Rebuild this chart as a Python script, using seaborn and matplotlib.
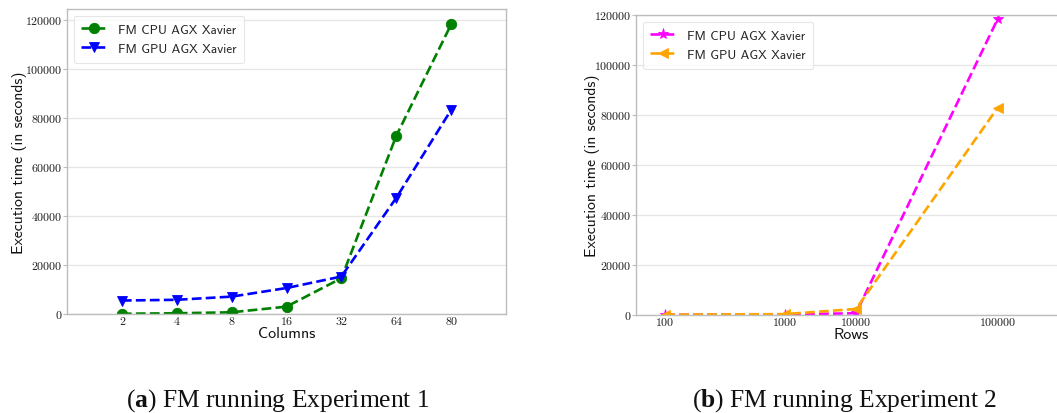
import numpy as np
import pandas as pd
import matplotlib
matplotlib.use("Agg")
import matplotlib.pyplot as plt
import seaborn as sns

# Experiment 1: execution time versus number of columns
columns = ["2", "4", "8", "16", "32", "64", "80"]
cpu_cols = [100, 300, 700, 3000, 14600, 72700, 118200]
gpu_cols = [5500, 5800, 7100, 10600, 15300, 47400, 83300]

# Experiment 2: execution time versus number of rows
rows = [100, 1000, 10000, 100000]
cpu_rows = [100, 200, 700, 118400]
gpu_rows = [150, 350, 2400, 82900]

series_labels = ["FM CPU AGX Xavier", "FM GPU AGX Xavier"]

sns.set_theme(style="whitegrid")
plt.rcParams["mathtext.fontset"] = "custom"
plt.rcParams["mathtext.rm"] = "Liberation Serif"
plt.rcParams["mathtext.bf"] = "Liberation Serif:bold"

TICK_FONT = "cmr10"
LABEL_FONT = "cmss10"
GRID_COLOR = "#e6e6e6"
SPINE_COLOR = "#bdbdbd"

fig = plt.figure(figsize=(10.57, 4.14), dpi=100)
ax1 = fig.add_axes([67 / 1057, 1 - 315 / 414, (506 - 67) / 1057, (315 - 10) / 414])
ax2 = fig.add_axes([636 / 1057, 1 - 316 / 414, (1066 - 636) / 1057, (316 - 16) / 414])

line_kw = dict(linestyle="--", linewidth=1.9, markeredgewidth=0.6)

# ---- (a) columns, categorical positions ----
df1 = pd.DataFrame({"pos": np.arange(len(columns)), "cpu": cpu_cols, "gpu": gpu_cols})
sns.lineplot(data=df1, x="pos", y="cpu", ax=ax1, color="green", marker="o",
             markersize=7.5, markeredgecolor="green", label=series_labels[0], **line_kw)
sns.lineplot(data=df1, x="pos", y="gpu", ax=ax1, color="blue", marker="v",
             markersize=7.5, markeredgecolor="blue", label=series_labels[1], **line_kw)
ax1.set_xlim(-1, len(columns))
ax1.set_xticks(np.arange(len(columns)))
ax1.set_xticklabels(columns)
ax1.set_ylim(0, 124500)
ax1.set_xlabel("Columns")

# ---- (b) rows, on a piecewise scale between the decades ----
_knots_log = np.array([0.0, 2.0, 3.0, 4.0, 5.0, 7.0])
_knots_pos = np.array([-3.36, 0.0, 1.68, 2.68, 4.67, 8.65])


def _fwd(x):
    x = np.asarray(x, dtype=float)
    return np.interp(np.log10(np.maximum(x, 1.0)), _knots_log, _knots_pos)


def _inv(u):
    u = np.asarray(u, dtype=float)
    return 10 ** np.interp(u, _knots_pos, _knots_log)


df2 = pd.DataFrame({"rows": rows, "cpu": cpu_rows, "gpu": gpu_rows})
ax2.set_xscale("function", functions=(_fwd, _inv))
sns.lineplot(data=df2, x="rows", y="cpu", ax=ax2, color="magenta", marker="*",
             markersize=8, markeredgecolor="magenta", label=series_labels[0], **line_kw)
sns.lineplot(data=df2, x="rows", y="gpu", ax=ax2, color="orange", marker="<",
             markersize=7.5, markeredgecolor="orange", label=series_labels[1], **line_kw)
ax2.set_xlim(float(_inv(-0.41)), float(_inv(5.63)))
ax2.set_xticks(rows)
ax2.set_xticklabels([str(r) for r in rows])
ax2.xaxis.set_minor_locator(matplotlib.ticker.NullLocator())
ax2.set_ylim(0, 120000)
ax2.set_xlabel("Rows")

for ax in (ax1, ax2):
    ax.set_yticks(np.arange(0, 120001, 20000))
    ax.yaxis.set_major_formatter(matplotlib.ticker.FuncFormatter(lambda v, p: f"{int(v)}"))
    ax.grid(axis="x", visible=False)
    ax.grid(axis="y", color=GRID_COLOR, linewidth=0.9)
    for sp in ax.spines.values():
        sp.set_color(SPINE_COLOR)
        sp.set_linewidth(1.0)
    ax.tick_params(axis="y", left=True, length=3, width=0.8, color=SPINE_COLOR, pad=1)
    ax.tick_params(axis="x", bottom=False, length=0, pad=2)
    for lab in ax.get_xticklabels() + ax.get_yticklabels():
        lab.set_fontfamily(TICK_FONT)
        lab.set_fontsize(8.6)
        lab.set_color("#1a1a1a")
    ax.set_ylabel("Execution time (in seconds)", fontfamily=LABEL_FONT, fontsize=11.3,
                  color="#111111")
    ax.xaxis.label.set_fontfamily(LABEL_FONT)
    ax.xaxis.label.set_fontsize(11.5)
    ax.xaxis.label.set_color("#111111")
    ax.xaxis.labelpad = 0
    leg = ax.legend(loc="upper left", prop={"family": LABEL_FONT, "size": 9.4},
                    frameon=True, framealpha=0.8, borderpad=0.6, handlelength=2.0,
                    labelspacing=0.55)
    leg.get_frame().set_edgecolor("#e0e0e0")
    leg.get_frame().set_linewidth(0.8)

ax1.yaxis.set_label_coords(-0.09, 0.5)
ax2.yaxis.set_label_coords(-0.083, 0.5)

# Subfigure captions
caption_kw = dict(fontfamily="Liberation Serif", fontsize=18.4, ha="center",
                  va="baseline", color="#111111")
fig.text(278 / 1057, 1 - 407 / 414, r"($\mathbf{a}$) FM running Experiment 1", **caption_kw)
fig.text(845 / 1057, 1 - 407 / 414, r"($\mathbf{b}$) FM running Experiment 2", **caption_kw)

fig.savefig("out.png", dpi=100)
